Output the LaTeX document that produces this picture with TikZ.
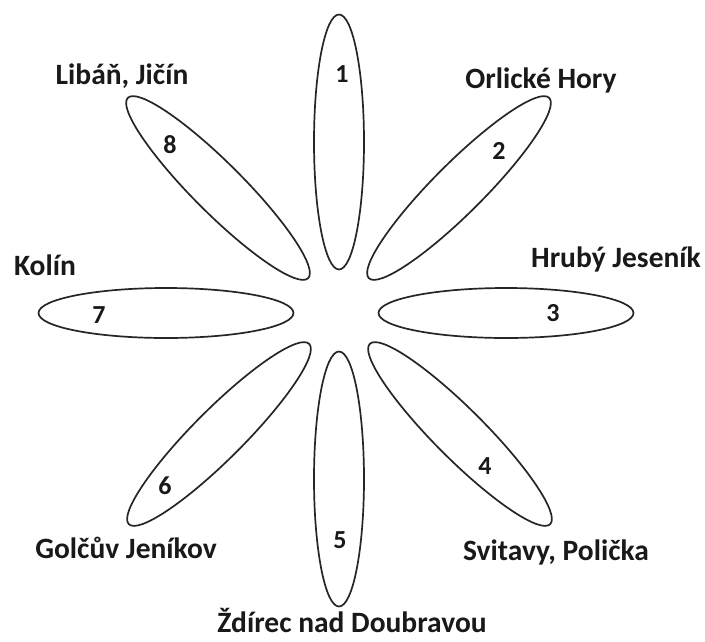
\documentclass[tikz,border=0pt]{standalone}
\usepackage{fontspec}
\setmainfont{Carlito}
\usetikzlibrary{shapes.geometric}
\begin{document}
\begin{tikzpicture}[x=1pt,y=-1pt,
  petal/.style={draw=black!85,line width=1.7pt,ellipse,inner sep=0pt,minimum width=255pt,minimum height=50pt},
  num/.style={font=\fontsize{26}{26}\selectfont\bfseries,text=black!90,inner sep=0pt},
  place/.style={font=\fontsize{29.5}{29.5}\selectfont\bfseries,text=black!90,inner sep=0pt}]
\useasboundingbox (0,0) rectangle (705,641);
\fill[white] (0,0) rectangle (705,641);
\node[petal,rotate=90] (p1) at (339,142) {};
\node[petal,rotate=45] (p2) at (459,188) {};
\node[petal] (p3) at (506,313) {};
\node[petal,rotate=-45] (p4) at (460,434) {};
\node[petal,rotate=90] (p5) at (339,479) {};
\node[petal,rotate=45] (p6) at (219,434) {};
\node[petal] (p7) at (166,313) {};
\node[petal,rotate=-45] (p8) at (218,188) {};
\node[num] (n1) at (342,74) {1};
\node[num] (n2) at (499,151) {2};
\node[num] (n3) at (553,313) {3};
\node[num] (n4) at (485,466) {4};
\node[num] (n5) at (340,540) {5};
\node[num] (n6) at (165,486) {6};
\node[num] (n7) at (99,315) {7};
\node[num] (n8) at (170,145) {8};
\node[place] (l8) at (122,76) {Libáň, Jičín};
\node[place] (l2) at (541,80) {Orlické Hory};
\node[place] (l7) at (45,265) {Kolín};
\node[place] (l3) at (616,259) {Hrubý Jeseník};
\node[place] (l6) at (126,548) {Golčův Jeníkov};
\node[place] (l4) at (556,552) {Svitavy, Polička};
\node[place] (l5) at (352,620) {Ždírec nad Doubravou};
\end{tikzpicture}
\end{document}
